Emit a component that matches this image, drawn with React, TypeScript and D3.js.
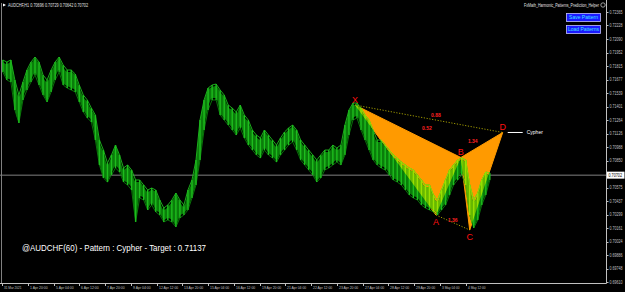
import React from "react";
import * as d3 from "d3";

const W = 625;
const H = 292;

// price samples (every 5 H1 bars): highs and lows
const highs = [
  0.71876, 0.71855, 0.71876, 0.71672, 0.71519, 0.71651, 0.71774, 0.71855, 0.71906, 0.71855,
  0.71723, 0.71672, 0.71774, 0.71855, 0.71906, 0.71825, 0.71774, 0.71774, 0.71733, 0.71621,
  0.71519, 0.71468, 0.71386, 0.71315, 0.71060, 0.70958, 0.70826, 0.70908, 0.71009, 0.70908,
  0.70775, 0.70806, 0.70755, 0.70653, 0.70653, 0.70602, 0.70551, 0.70571, 0.70551, 0.70449,
  0.70367, 0.70398, 0.70449, 0.70520, 0.70449, 0.70398, 0.70551, 0.70653, 0.70857, 0.71264,
  0.71468, 0.71590, 0.71621, 0.71631, 0.71570, 0.71519, 0.71417, 0.71386, 0.71346, 0.71417,
  0.71315, 0.71264, 0.71162, 0.71111, 0.71081, 0.71162, 0.71111, 0.71060, 0.71009, 0.71081,
  0.71142, 0.71183, 0.71213, 0.71162, 0.71060, 0.71009, 0.70958, 0.70908, 0.70857, 0.70908,
  0.70958, 0.70958, 0.71009, 0.70979, 0.71009, 0.71213, 0.71366, 0.71437, 0.71437, 0.71386,
  0.71315, 0.71264, 0.71162, 0.71060, 0.71060, 0.71009, 0.70958, 0.70908, 0.70877, 0.70836,
  0.70806, 0.70775, 0.70755, 0.70704, 0.70653, 0.70602, 0.70602, 0.70500, 0.70449, 0.70551,
  0.70653, 0.70755, 0.70806, 0.70857, 0.70877, 0.70857, 0.70602, 0.70449, 0.70520, 0.70653,
  0.70734, 0.70724,
];
const lows = [
  0.71753, 0.71672, 0.71651, 0.71366, 0.71234, 0.71468, 0.71570, 0.71651, 0.71723, 0.71621,
  0.71519, 0.71448, 0.71550, 0.71672, 0.71753, 0.71621, 0.71590, 0.71570, 0.71550, 0.71448,
  0.71346, 0.71285, 0.71244, 0.71060, 0.70806, 0.70673, 0.70632, 0.70704, 0.70775, 0.70734,
  0.70632, 0.70602, 0.70551, 0.70225, 0.70469, 0.70449, 0.70347, 0.70398, 0.70327, 0.70296,
  0.70225, 0.70245, 0.70225, 0.70174, 0.70266, 0.70296, 0.70347, 0.70469, 0.70602, 0.70857,
  0.71162, 0.71366, 0.71468, 0.71468, 0.71315, 0.71264, 0.71213, 0.71162, 0.71111, 0.71183,
  0.71081, 0.71009, 0.70958, 0.70908, 0.70877, 0.70958, 0.70908, 0.70877, 0.70836, 0.70908,
  0.70958, 0.71009, 0.71040, 0.70958, 0.70857, 0.70806, 0.70755, 0.70704, 0.70632, 0.70673,
  0.70755, 0.70775, 0.70806, 0.70836, 0.70806, 0.70908, 0.71111, 0.71264, 0.71285, 0.71162,
  0.71060, 0.70958, 0.70857, 0.70806, 0.70775, 0.70755, 0.70704, 0.70653, 0.70632, 0.70602,
  0.70551, 0.70500, 0.70469, 0.70449, 0.70398, 0.70367, 0.70347, 0.70327, 0.70296, 0.70347,
  0.70398, 0.70500, 0.70602, 0.70653, 0.70704, 0.70602, 0.70296, 0.70164, 0.70245, 0.70398,
  0.70500, 0.70653,
];

const yTicks = [
  0.72365, 0.72228, 0.7209, 0.71952, 0.71815, 0.71677, 0.71539, 0.71401, 0.71264, 0.71126,
  0.70988, 0.7085, 0.70575, 0.70437, 0.70299, 0.70161, 0.70024, 0.69886, 0.69748, 0.6961,
];

const xLabels = [
  "31 Mar 2021", "1 Apr 20:00", "5 Apr 04:00", "6 Apr 12:00", "7 Apr 20:00", "9 Apr 04:00",
  "12 Apr 12:00", "13 Apr 20:00", "15 Apr 04:00", "16 Apr 12:00", "19 Apr 20:00", "21 Apr 04:00",
  "22 Apr 12:00", "23 Apr 20:00", "27 Apr 04:00", "28 Apr 12:00", "29 Apr 20:00", "3 May 04:00",
  "4 May 12:00",
];

// harmonic pattern points (bar index, price)
const patternNames = ["X", "A", "B", "C", "D"];
const patternBars = [438.5, 539, 570, 581, 622];
const patternPrices = [0.71417, 0.70296, 0.70882, 0.70143, 0.71137];
const ratioLabels = ["0.88", "0.52", "1.34", "1.36"];

const currentPrice = 0.70702;
const headerText = "AUDCHF,H1  0.70696 0.70729 0.70642 0.70702";
const indicatorName = "FxMath_Harmonic_Patterns_Prediction_Helper";
const infoText = "@AUDCHF(60) - Pattern : Cypher - Target : 0.71137";

export default function App() {
  const plotRight = 606;
  const plotBottom = 283;
  const x = d3.scaleLinear().domain([0, 100]).range([2, 2 + 80.5]);
  const y = d3.scaleLinear().domain([0.6961, 0.72365]).range([282.3, 12]);
  const sampleX = (i: number) => x(i * 5 + 1);

  const P = patternNames.map((n, i) => ({ n, x: x(patternBars[i]), y: y(patternPrices[i]) }));
  const [pX, pA, pB, pC, pD] = P;
  const tri1 = d3.line()([[pX.x, pX.y], [pA.x, pA.y], [pB.x, pB.y]]) + "Z";
  const tri2 = d3.line()([[pB.x, pB.y], [pC.x, pC.y], [pD.x, pD.y]]) + "Z";

  const mid = (a: any, b: any) => [(a.x + b.x) / 2, (a.y + b.y) / 2];
  const ratioPos = [
    [mid(pX, pD), 7, -1.5],
    [mid(pX, pB), 19, -1.5],
    [mid(pB, pD), -9, -1.5],
    [mid(pA, pC), 0, -0.5],
  ] as any[];

  const font = "'Liberation Sans', Arial, sans-serif";
  const axisCol = "#c0c0c0";

  const bars = (color: string) =>
    highs.map((h, i) => (
      <rect
        key={i}
        x={sampleX(i) - 0.7}
        width={1.4}
        y={y(h)}
        height={Math.max(1, y(lows[i]) - y(h))}
        fill={color}
      />
    ));

  const bandArea = d3
    .area<number>()
    .x((_, i) => sampleX(i))
    .y0((_, i) => y(lows[i]) - 2)
    .y1((d) => y(d) + 2)
    .curve(d3.curveMonotoneX);
  const hiLine = d3.line<number>().x((_, i) => sampleX(i)).y((d) => y(d));
  const loLine = d3.line<number>().x((_, i) => sampleX(i)).y((d) => y(d));

  const priceLayer = (dark: string, bright: string) => (
    <>
      <path d={bandArea(highs) || ""} fill={dark} />
      <path d={hiLine(highs) || ""} fill="none" stroke={bright} strokeWidth={0.9} />
      <path d={loLine(lows) || ""} fill="none" stroke={dark} strokeWidth={0.9} />
      {bars(bright)}
    </>
  );

  return (
    <div style={{ position: "fixed", left: 0, top: 0, width: W, height: H }}>
      <svg width={W} height={H} style={{ display: "block", background: "#000" }}>
        <defs>
          <clipPath id="patclip">
            <path d={tri1} />
            <path d={tri2} />
          </clipPath>
          <clipPath id="plotclip">
            <rect x={0} y={0} width={plotRight} height={plotBottom} />
          </clipPath>
        </defs>
        <rect x={0} y={0} width={W} height={H} fill="#000" />

        {/* frame */}
        <line x1={1.5} x2={1.5} y1={3} y2={plotBottom} stroke="#808080" strokeWidth={1} />

        {/* current price line */}
        <line x1={0} x2={plotRight} y1={y(currentPrice)} y2={y(currentPrice)} stroke="#808080" strokeWidth={1} />

        {/* pattern triangles */}
        <path d={tri1} fill="#ff9a00" stroke="#ff9a00" strokeWidth={1} />
        <path d={tri2} fill="#ff9a00" stroke="#ff9a00" strokeWidth={1} />

        {/* price */}
        <g clipPath="url(#plotclip)">
          {priceLayer("#0a7d0a", "#1ebd1e")}
          <g clipPath="url(#patclip)">{priceLayer("#66b800", "#9ae000")}</g>
        </g>

        {/* dotted lines */}
        <line x1={pX.x} y1={pX.y} x2={pD.x} y2={pD.y} stroke="#c8c000" strokeWidth={0.8} strokeDasharray="1.2,1.6" />
        <line x1={pA.x} y1={pA.y} x2={pC.x} y2={pC.y} stroke="#c8c000" strokeWidth={0.8} strokeDasharray="1.2,1.6" />

        {/* ratio labels */}
        {ratioLabels.map((t, i) => {
          const [m, dx, dy] = ratioPos[i];
          return (
            <text key={t + i} x={m[0] + dx} y={m[1] + dy} fontSize={5} fontWeight="bold" fill="#ff2020" fontFamily={font} textAnchor="middle">
              {t}
            </text>
          );
        })}

        {/* point labels */}
        {P.map((p) => {
          const below = p.n === "A" || p.n === "C";
          return (
            <text key={p.n} x={p.x} y={below ? p.y + 10 : p.y - 2.5} fontSize={9} fill="#ff1010" fontFamily={font} textAnchor="middle">
              {p.n}
            </text>
          );
        })}

        {/* target marker */}
        <line x1={pD.x + 5} x2={pD.x + 20} y1={pD.y} y2={pD.y} stroke="#ffffff" strokeWidth={1} />
        <text x={pD.x + 24} y={pD.y + 1.8} fontSize={5} fill="#ffffff" fontFamily={font}>Cypher</text>

        {/* info text */}
        <text x={22} y={250.5} fontSize={9.5} fill="#ffffff" fontFamily={font} textLength={184} lengthAdjust="spacingAndGlyphs">
          {infoText}
        </text>

        {/* axes */}
        <line x1={plotRight + 0.5} x2={plotRight + 0.5} y1={0} y2={plotBottom + 0.5} stroke={axisCol} strokeWidth={1} />
        <line x1={0} x2={plotRight + 0.5} y1={plotBottom + 0.5} y2={plotBottom + 0.5} stroke={axisCol} strokeWidth={1} />
        {yTicks.map((v) => (
          <g key={v}>
            <line x1={plotRight} x2={plotRight + 2.5} y1={Math.round(y(v)) + 0.5} y2={Math.round(y(v)) + 0.5} stroke={axisCol} />
            <text x={609.5} y={y(v) + 1.6} fontSize={4.6} fill={axisCol} fontFamily={font} textLength={13} lengthAdjust="spacingAndGlyphs">
              {v.toFixed(5)}
            </text>
          </g>
        ))}
        <rect x={607} y={y(currentPrice) - 3.5} width={17.5} height={7} fill="#ffffff" />
        <text x={608.5} y={y(currentPrice) + 1.6} fontSize={4.6} fill="#000" fontFamily={font} textLength={13.5} lengthAdjust="spacingAndGlyphs">
          {currentPrice.toFixed(5)}
        </text>

        {xLabels.map((l, i) => {
          const tx = Math.round(x(i * 32)) + 0.5;
          return (
            <g key={l}>
              <line x1={tx} x2={tx} y1={plotBottom} y2={plotBottom + 3} stroke={axisCol} />
              <text x={tx + 1.5} y={289} fontSize={4.3} fill={axisCol} fontFamily={font} textLength={l.length * 1.6} lengthAdjust="spacingAndGlyphs">
                {l}
              </text>
            </g>
          );
        })}

        {/* header */}
        <path d="M3,3.5 L6,5 L3,6.5 Z" fill="#ffffff" />
        <text x={8} y={6.8} fontSize={4.8} fill="#e0e0e0" fontFamily={font} textLength={80} lengthAdjust="spacingAndGlyphs">
          {headerText}
        </text>
        <text x={524} y={6.8} fontSize={4.8} fill="#e0e0e0" fontFamily={font} textLength={75} lengthAdjust="spacingAndGlyphs">
          {indicatorName}
        </text>
        <circle cx={603} cy={5} r={2.2} fill="none" stroke="#c0c0c0" strokeWidth={0.8} />

        {/* buttons */}
        <rect x={566.5} y={13.5} width={34} height={8} fill="#1a1aff" stroke="#c0c0ff" strokeWidth={0.8} />
        <text x={583.5} y={19.3} fontSize={5} fill="#40e0ff" fontFamily={font} textAnchor="middle">Save Pattern</text>
        <rect x={566.5} y={25.5} width={34} height={8} fill="#1a1aff" stroke="#c0c0ff" strokeWidth={0.8} />
        <text x={583.5} y={31.3} fontSize={5} fill="#40e0ff" fontFamily={font} textAnchor="middle">Load Patterns</text>
      </svg>
    </div>
  );
}
